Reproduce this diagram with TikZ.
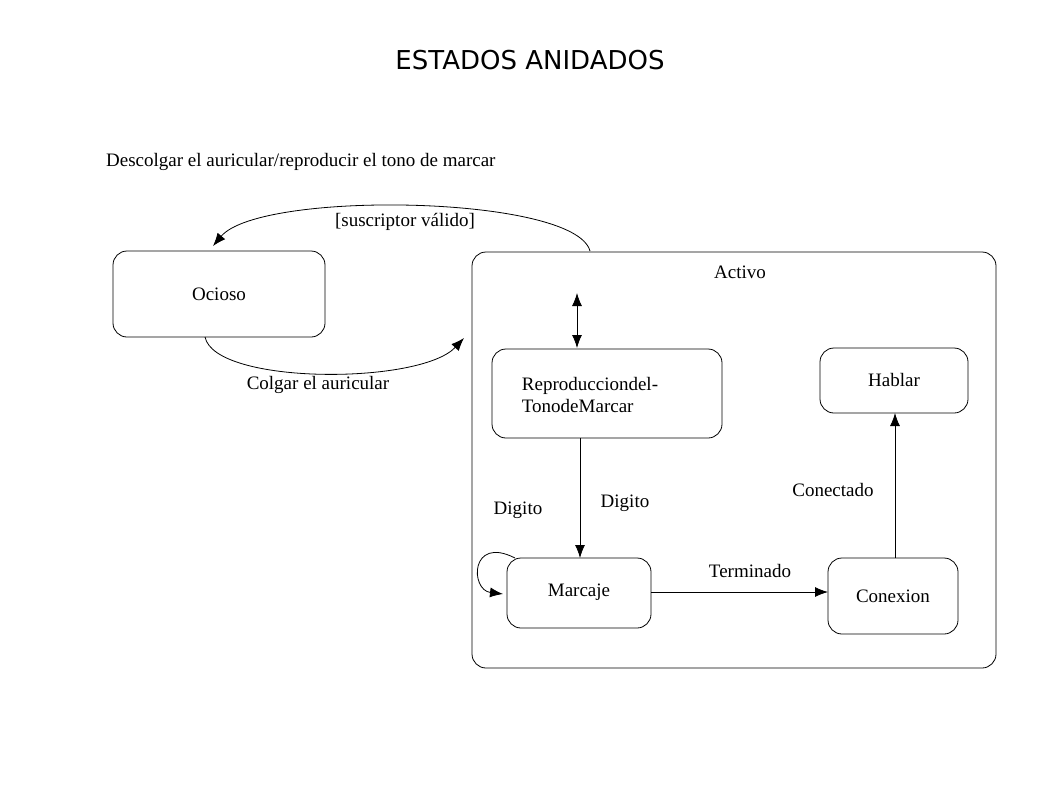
\documentclass[tikz,border=0pt]{standalone}
\usepackage{fontspec}
\setmainfont{Liberation Serif}
\setsansfont{DejaVu Sans}
\usetikzlibrary{arrows.meta}
\usetikzlibrary{positioning}

\tikzset{
    estado/.style={draw=black, rounded corners=14pt, line width=0.8pt},
    etiq/.style={font=\fontsize{19}{22}\selectfont, inner sep=1pt},
    flecha/.style={line width=0.8pt, -{Latex[length=13pt, width=10pt]}}
}

\begin{document}
\begin{tikzpicture}[x=1pt, y=-1pt]
        \useasboundingbox (0,0) rectangle (1058,793);
        \node[font=\sffamily\fontsize{26}{30}\selectfont] (titulo) at (530,60) {ESTADOS ANIDADOS};
        \node[etiq, anchor=west] (descolgar) at (105,162) {Descolgar el auricular/reproducir el tono de marcar};
        % estados
        \draw[estado] (113,251) rectangle (325,337);
        \node[etiq] (ocioso) at (219,294) {Ocioso};
        \draw[estado] (472,252) rectangle (996,668);
        \node[etiq] (activo) at (740,272) {Activo};
        \draw[estado] (492,349) rectangle (722,438);
        \node[etiq, align=left] (repro) at (590,395) {Reproducciondel-\\TonodeMarcar};
        \draw[estado] (820,348) rectangle (968,413);
        \node[etiq] (hablar) at (894,380) {Hablar};
        \draw[estado] (507,558) rectangle (651,628);
        \node[etiq] (marcaje) at (579,592) {Marcaje};
        \draw[estado] (828,558) rectangle (958,634);
        \node[etiq] (conexion) at (893,596) {Conexion};
        % transiciones
        \coordinate (aTop) at (590,251);
        \coordinate (oTop) at (213,246);
        \coordinate (oBot) at (205,337);
        \coordinate (aIzq) at (464,338);
        \draw[flecha] (aTop) .. controls (575,195) and (260,190) .. (oTop);
        \node[etiq] (valido) at (405,222) {[suscriptor válido]};
        \draw[flecha] (oBot) .. controls (215,385) and (420,385) .. (aIzq);
        \node[etiq] (colgar) at (318,385) {Colgar el auricular};
        \draw[line width=0.8pt, {Latex[length=13pt, width=10pt]}-{Latex[length=13pt, width=10pt]}] (577,293) -- (577,348);
        \draw[flecha] (580,438) -- (580,558);
        \node[etiq] (digito) at (625,503) {Digito};
        \draw[flecha] (515,558) .. controls (470,535) and (470,590) .. (503,594);
        \node[etiq] (digitoB) at (518,510) {Digito};
        \draw[flecha] (651,592) -- (828,592);
        \node[etiq] (terminado) at (750,571) {Terminado};
        \draw[flecha] (895,558) -- (895,413);
        \node[etiq] (conectado) at (833,490) {Conectado};
\end{tikzpicture}
\end{document}
